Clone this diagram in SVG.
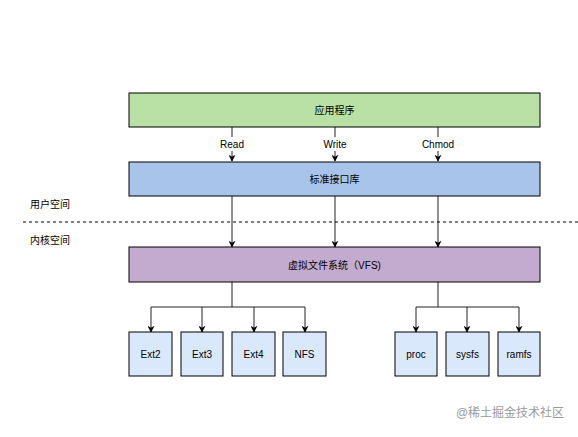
<svg xmlns="http://www.w3.org/2000/svg" width="578" height="437" viewBox="0 0 578 437">
<style>
text{font-family:"Liberation Sans","Noto Sans CJK SC",sans-serif;font-size:10px;fill:#000;text-anchor:middle;dominant-baseline:central}
.box{stroke:#000;stroke-width:1}
.leaf{fill:#dae8fc;stroke:#000;stroke-width:1}
.c{fill:none;stroke:#222;stroke-width:1}
</style>
<defs>
<marker id="a" viewBox="0 0 10 10" refX="9" refY="5" markerWidth="7" markerHeight="7" markerUnits="userSpaceOnUse" orient="auto"><path d="M0,0 L10,5 L0,10 L3,5 Z" fill="#000"/></marker>
</defs>
<rect width="578" height="437" fill="#fff"/>
<g id="connectors">
<path class="c" d="M232,127 V161" marker-end="url(#a)"/>
<path class="c" d="M335,127 V161" marker-end="url(#a)"/>
<path class="c" d="M438,127 V161" marker-end="url(#a)"/>
<rect x="216" y="137" width="32" height="14" fill="#fff"/>
<rect x="318" y="137" width="34" height="14" fill="#fff"/>
<rect x="418" y="137" width="40" height="14" fill="#fff"/>
<text x="232" y="144">Read</text>
<text x="335" y="144">Write</text>
<text x="438" y="144">Chmod</text>
<path class="c" d="M232,196 V247" marker-end="url(#a)"/>
<path class="c" d="M335,196 V247" marker-end="url(#a)"/>
<path class="c" d="M438,196 V247" marker-end="url(#a)"/>
<path class="c" d="M232,282 V307 M151,307 H305 M438,282 V307 M416,307 H519"/>
<path class="c" d="M151,307 V332" marker-end="url(#a)"/>
<path class="c" d="M202,307 V332" marker-end="url(#a)"/>
<path class="c" d="M254,307 V332" marker-end="url(#a)"/>
<path class="c" d="M305,307 V332" marker-end="url(#a)"/>
<path class="c" d="M416,307 V332" marker-end="url(#a)"/>
<path class="c" d="M467,307 V332" marker-end="url(#a)"/>
<path class="c" d="M519,307 V332" marker-end="url(#a)"/>
</g>
<g id="app"><rect class="box" x="129" y="93" width="411" height="34" fill="#b9e0a5"/><text x="334.5" y="110">应用程序</text></g>
<g id="stdlib"><rect class="box" x="129" y="162" width="411" height="34" fill="#a9c4eb"/><text x="334.5" y="179">标准接口库</text></g>
<g id="divider"><line x1="23" y1="222" x2="578" y2="222" stroke="#000" stroke-dasharray="3,3"/><text x="50" y="204">用户空间</text><text x="50" y="240">内核空间</text></g>
<g id="vfs"><rect class="box" x="129" y="247" width="411" height="35" fill="#c3abd0"/><text x="334.5" y="265">虚拟文件系统（VFS)</text></g>
<g id="ext2"><rect class="leaf" x="129" y="332" width="43" height="44"/><text x="150.5" y="354">Ext2</text></g>
<g id="ext3"><rect class="leaf" x="181" y="332" width="42" height="44"/><text x="202" y="354">Ext3</text></g>
<g id="ext4"><rect class="leaf" x="232" y="332" width="43" height="44"/><text x="253.5" y="354">Ext4</text></g>
<g id="nfs"><rect class="leaf" x="283" y="332" width="43" height="44"/><text x="304.5" y="354">NFS</text></g>
<g id="proc"><rect class="leaf" x="395" y="332" width="42" height="44"/><text x="416" y="354">proc</text></g>
<g id="sysfs"><rect class="leaf" x="446" y="332" width="43" height="44"/><text x="467.5" y="354">sysfs</text></g>
<g id="ramfs"><rect class="leaf" x="498" y="332" width="42" height="44"/><text x="519" y="354">ramfs</text></g>
<text x="510" y="413" style="font-size:12px;fill:#9a9a9a">@稀土掘金技术社区</text>
</svg>
